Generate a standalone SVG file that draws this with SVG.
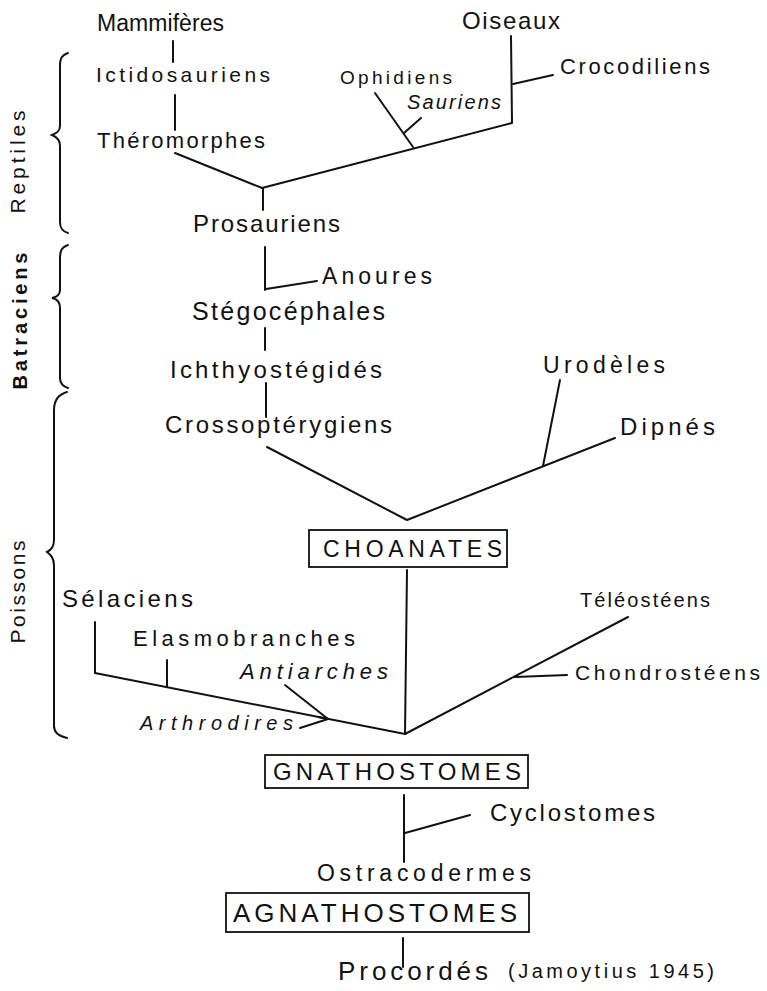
<svg xmlns="http://www.w3.org/2000/svg" width="767" height="991" viewBox="0 0 767 991">
<style>
text{font-family:"Liberation Sans","DejaVu Sans",sans-serif;fill:#111;}
.it{font-style:italic;}
.ln{fill:none;stroke:#111;stroke-width:2;stroke-linecap:round;stroke-linejoin:round;}
.br{fill:none;stroke:#111;stroke-width:2;stroke-linecap:round;}
.box{fill:none;stroke:#111;stroke-width:1.8;}
</style>
<rect width="767" height="991" fill="#fff"/>
<g id="groups">
<path class="br" d="M68,53 C62,55 60,58 60,66 L60,126 C60,131 57,133 52,135 C57,137 60,140 60,146 L60,222 C60,228 62,231 68,233"/>
<path class="br" d="M68,245 C62,247 60,250 60,258 L60,290 C60,295 57,297 52,298 C57,299 60,302 60,308 L60,378 C60,383 62,386 68,388"/>
<path class="br" d="M67,392 C60,394 54,398 54,410 L54,540 C54,547 51,550 47,552 C51,555 54,558 54,566 L54,726 C54,732 58,736 67,738"/>
<text transform="rotate(-90 25 162)" x="25" y="162" font-size="21" text-anchor="middle" textLength="103">Reptiles</text>
<text transform="rotate(-90 27 321)" x="27" y="321" font-size="20" font-weight="bold" text-anchor="middle" textLength="137">Batraciens</text>
<text transform="rotate(-90 25 592)" x="25" y="592" font-size="21" text-anchor="middle" textLength="103">Poissons</text>
</g>
<g id="connectors">
<path class="ln" d="M173,41 L173,62"/>
<path class="ln" d="M175,95 L175,130"/>
<path class="ln" d="M175,153 L262,188 L512,123 L511,36"/>
<path class="ln" d="M263,188 L263,210"/>
<path class="ln" d="M513,84 L553,75"/>
<path class="ln" d="M375,93 L413,147"/>
<path class="ln" d="M404,133 L421,118"/>
<path class="ln" d="M265,247 L265,290"/>
<path class="ln" d="M266,289 L317,281"/>
<path class="ln" d="M265,328 L265,350"/>
<path class="ln" d="M266,383 L266,417"/>
<path class="ln" d="M267,447 L407,520 L615,438"/>
<path class="ln" d="M560,380 L543,466"/>
<path class="ln" d="M407,570 L405,734"/>
<path class="ln" d="M95,622 L95,673 L405,734 L628,617"/>
<path class="ln" d="M167,660 L167,687"/>
<path class="ln" d="M285,685 L328,719"/>
<path class="ln" d="M300,728 L328,719 L318,717"/>
<path class="ln" d="M515,677 L567,675"/>
<path class="ln" d="M404,795 L404,862"/>
<path class="ln" d="M405,833 L470,815"/>
<path class="ln" d="M403,938 L403,967"/>
</g>
<g id="mammiferes"><text x="97" y="31" font-size="23" textLength="127">Mammifères</text></g>
<g id="ictidosauriens"><text x="96" y="82" font-size="21" textLength="174">Ictidosauriens</text></g>
<g id="theromorphes"><text x="97" y="148" font-size="22" textLength="168">Théromorphes</text></g>
<g id="oiseaux"><text x="462" y="29" font-size="24" textLength="98">Oiseaux</text></g>
<g id="crocodiliens"><text x="560" y="74" font-size="22" textLength="150">Crocodiliens</text></g>
<g id="ophidiens"><text x="340" y="84" font-size="19" textLength="112">Ophidiens</text></g>
<g id="sauriens"><text class="it" x="407" y="109" font-size="20" textLength="94">Sauriens</text></g>
<g id="prosauriens"><text x="193" y="232" font-size="24" textLength="147">Prosauriens</text></g>
<g id="anoures"><text x="322" y="284" font-size="23" textLength="110">Anoures</text></g>
<g id="stegocephales"><text x="192" y="320" font-size="25" textLength="193">Stégocéphales</text></g>
<g id="ichthyostegides"><text x="170" y="378" font-size="24" textLength="212">Ichthyostégidés</text></g>
<g id="crossopterygiens"><text x="165" y="433" font-size="24" textLength="227">Crossoptérygiens</text></g>
<g id="urodeles"><text x="543" y="373" font-size="23" textLength="122">Urodèles</text></g>
<g id="dipnes"><text x="620" y="435" font-size="24" textLength="95">Dipnés</text></g>
<g id="choanates"><rect class="box" x="309" y="530" width="198" height="37"/><text x="323" y="557" font-size="23" textLength="179">CHOANATES</text></g>
<g id="selaciens"><text x="62" y="607" font-size="24" textLength="131">Sélaciens</text></g>
<g id="elasmobranches"><text x="133" y="646" font-size="22" textLength="222">Elasmobranches</text></g>
<g id="antiarches"><text class="it" x="240" y="679" font-size="22" textLength="148">Antiarches</text></g>
<g id="arthrodires"><text class="it" x="140" y="730" font-size="20" textLength="153">Arthrodires</text></g>
<g id="teleosteens"><text x="580" y="607" font-size="20" textLength="130">Téléostéens</text></g>
<g id="chondrosteens"><text x="575" y="680" font-size="21" textLength="185">Chondrostéens</text></g>
<g id="gnathostomes"><rect class="box" x="265" y="755" width="263" height="33"/><text x="273" y="780" font-size="24" textLength="248">GNATHOSTOMES</text></g>
<g id="cyclostomes"><text x="490" y="821" font-size="24" textLength="165">Cyclostomes</text></g>
<g id="ostracodermes"><text x="317" y="881" font-size="23" textLength="214">Ostracodermes</text></g>
<g id="agnathostomes"><rect class="box" x="226" y="893" width="303" height="39"/><text x="233" y="922" font-size="26" textLength="284">AGNATHOSTOMES</text></g>
<g id="procordes"><text x="338" y="980" font-size="26" textLength="150">Procordés</text><text x="508" y="978" font-size="20" textLength="206">(Jamoytius 1945)</text></g>
</svg>
